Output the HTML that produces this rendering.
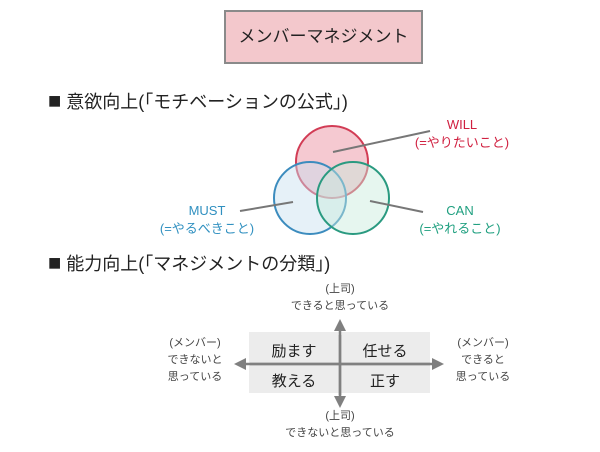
<!DOCTYPE html><html><head><meta charset="utf-8"><style>
body{margin:0;width:600px;height:452px;background:#fff;font-family:"Liberation Sans","Noto Sans CJK JP",sans-serif;position:relative;overflow:hidden}
.t{position:absolute;white-space:nowrap}
.c{transform:translateX(-50%);text-align:center}
</style></head><body>
<div class="t" style="left:224px;top:10px;width:199px;height:54px;background:#f3c8cc;border:2px solid #8a8a8a;box-sizing:border-box;font-size:17px;line-height:50px;text-align:center;color:#222">メンバーマネジメント</div>
<div class="t" style="left:48px;top:88px;font-size:18px;color:#222"><span style="font-size:22px;line-height:18px">■</span> 意欲向上(「モチベーションの公式」)</div>
<div class="t" style="left:48px;top:250px;font-size:18px;color:#222"><span style="font-size:22px;line-height:18px">■</span> 能力向上(「マネジメントの分類」)</div>
<svg width="600" height="452" style="position:absolute;left:0;top:0">
<defs>
<marker id="a" markerUnits="userSpaceOnUse" markerWidth="12" markerHeight="12" refX="6" refY="6" orient="auto"><path d="M0,0L12,6L0,12z" fill="#808080"/></marker>
</defs>
<circle cx="332" cy="162" r="36" fill="rgba(230,120,140,0.4)" stroke="#d23c55" stroke-width="2"/>
<circle cx="310" cy="198" r="36" fill="rgba(200,225,240,0.45)" stroke="#3c8cbe" stroke-width="2"/>
<circle cx="353" cy="198" r="36" fill="rgba(200,235,220,0.45)" stroke="#2a9a80" stroke-width="2"/>
<line x1="333" y1="152" x2="430" y2="131" stroke="#777" stroke-width="2"/>
<line x1="240" y1="211" x2="293" y2="202" stroke="#777" stroke-width="2"/>
<line x1="370" y1="201" x2="423" y2="212" stroke="#777" stroke-width="2"/>
<rect x="249" y="332" width="181" height="61" fill="#ececec"/>
<line x1="430" y1="364" x2="240" y2="364" stroke="#808080" stroke-width="2.5" marker-end="url(#a)"/>
<line x1="250" y1="364" x2="438" y2="364" stroke="#808080" stroke-width="2.5" marker-end="url(#a)"/>
<line x1="340" y1="395" x2="340" y2="325" stroke="#808080" stroke-width="2.5" marker-end="url(#a)"/>
<line x1="340" y1="335" x2="340" y2="402" stroke="#808080" stroke-width="2.5" marker-end="url(#a)"/>
</svg>
<div class="t c" style="left:462px;top:116px;font-size:13px;line-height:18px;color:#d02040">WILL<br>(=やりたいこと)</div>
<div class="t c" style="left:207px;top:202px;font-size:13px;line-height:18px;color:#3090c0">MUST<br>(=やるべきこと)</div>
<div class="t c" style="left:460px;top:202px;font-size:13px;line-height:18px;color:#20a080">CAN<br>(=やれること)</div>
<div class="t c" style="left:294px;top:340px;font-size:15px;color:#222">励ます</div>
<div class="t c" style="left:385px;top:340px;font-size:15px;color:#222">任せる</div>
<div class="t c" style="left:294px;top:370px;font-size:15px;color:#222">教える</div>
<div class="t c" style="left:385px;top:370px;font-size:15px;color:#222">正す</div>
<div class="t c" style="left:340px;top:281px;font-size:11px;line-height:17px;color:#444">(上司)<br>できると思っている</div>
<div class="t c" style="left:340px;top:408px;font-size:11px;line-height:17px;color:#444">(上司)<br>できないと思っている</div>
<div class="t c" style="left:195px;top:335px;font-size:11px;line-height:17px;color:#444">(メンバー)<br>できないと<br>思っている</div>
<div class="t c" style="left:483px;top:335px;font-size:11px;line-height:17px;color:#444">(メンバー)<br>できると<br>思っている</div>
</body></html>
